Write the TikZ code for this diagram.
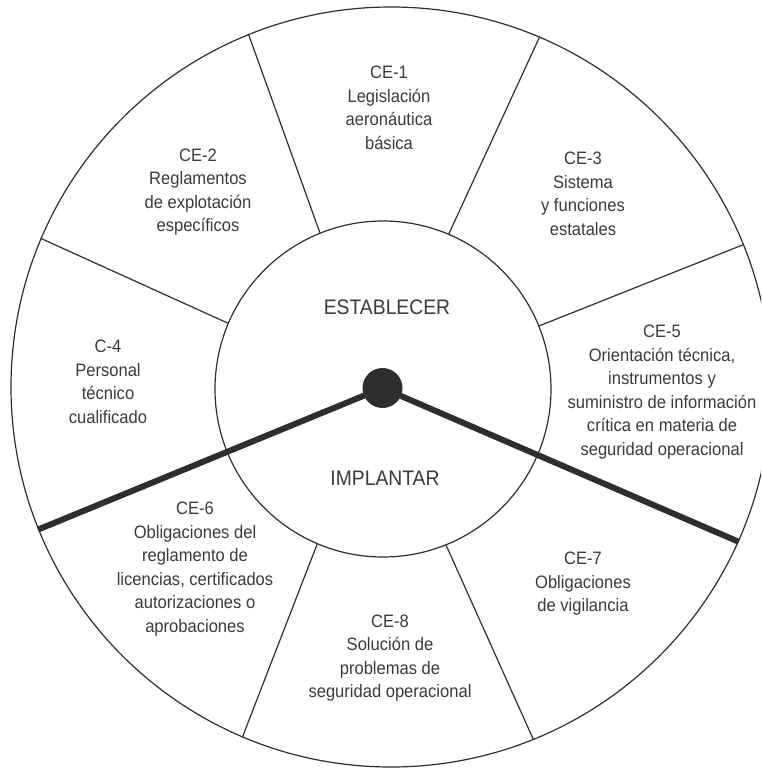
\documentclass[tikz,border=0pt]{standalone}
\usepackage{fontspec}
\setmainfont{Liberation Sans}[FakeStretch=0.92]
\definecolor{ink}{HTML}{2E2E2E}
\definecolor{txt}{HTML}{3A3A3A}
\begin{document}
\begin{tikzpicture}[x=1pt,y=-1pt,
  ring/.style={circle,draw=ink,line width=1.2pt,inner sep=0pt},
  spoke/.style={draw=ink,line width=1.2pt},
  axisline/.style={draw=ink,line width=6pt},
  lbl/.style={align=center,text=txt,inner sep=0pt,
    font=\fontsize{18}{23.5}\selectfont},
  phase/.style={text=txt,inner sep=0pt,font=\fontsize{21}{25}\selectfont}]
\useasboundingbox (0,0) rectangle (761,768);
\clip (0,0) rectangle (761,768);

% the two rings
\node[ring,minimum size=760pt] (outer) at (391,387) {};
\node[ring,minimum size=336pt] (inner) at (383,389) {};

% thin spokes between the rings
\foreach \a in {22.5,67.5,112.5,157.5,247.5,292.5}
  \draw[spoke] (inner.\a) -- (outer.\a);

% the two thick axes and the hub
\coordinate (hc) at (382.5,388);
\draw[axisline] (hc) -- (outer.202);
\draw[axisline] (hc) -- (outer.336);
\node[circle,fill=ink,minimum size=40pt,inner sep=0pt] (hub) at (hc) {};

% inner ring labels
\node[phase] (est) at (387,307) {ESTABLECER};
\node[phase] (imp) at (385,478) {IMPLANTAR};

% outer ring sectors
\node[lbl] (ce1) at (389,108) {CE-1\\Legislación\\aeronáutica\\básica};
\node[lbl] (ce2) at (198,192) {CE-2\\Reglamentos\\de explotación\\específicos};
\node[lbl] (ce3) at (583,194) {CE-3\\Sistema\\y funciones\\estatales};
\node[lbl] (c4) at (108,382) {C-4\\Personal\\técnico\\cualificado};
\node[lbl] (ce5) at (662,392) {CE-5\\Orientación técnica,\\instrumentos y\\suministro de información\\crítica en materia de\\seguridad operacional};
\node[lbl] (ce6) at (195,569) {CE-6\\Obligaciones del\\reglamento de\\licencias, certificados\\autorizaciones o\\aprobaciones};
\node[lbl] (ce7) at (583,584) {CE-7\\Obligaciones\\de vigilancia};
\node[lbl] (ce8) at (390,658) {CE-8\\Solución de\\problemas de\\seguridad operacional};
\end{tikzpicture}
\end{document}
